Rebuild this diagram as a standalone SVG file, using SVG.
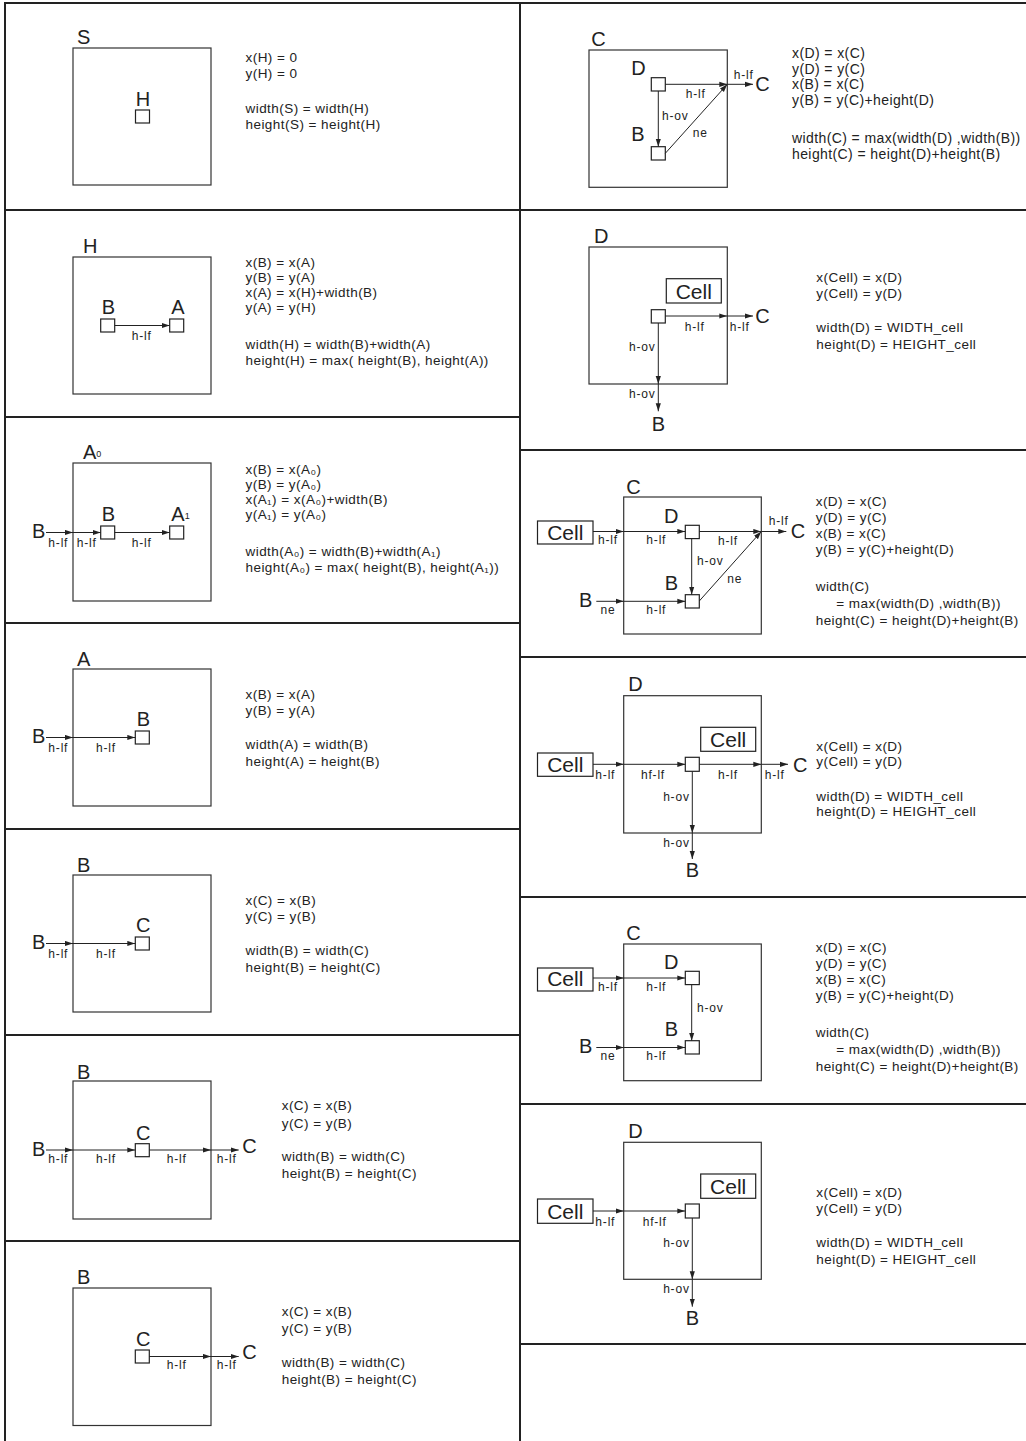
<svg xmlns="http://www.w3.org/2000/svg" width="1026" height="1441" viewBox="0 0 1026 1441">
<style>
.frame{stroke:#222;stroke-width:2;fill:none}
.box{fill:none;stroke:#333;stroke-width:1.2}
.sq{fill:#fff;stroke:#222;stroke-width:1.2}
.cb{fill:#fff;stroke:#222;stroke-width:1.2}
.e{stroke:#222;stroke-width:1;fill:none;marker-end:url(#ah)}
text{font-family:"Liberation Sans",Arial,Helvetica,sans-serif;fill:#222}
.t{font-size:13.5px;letter-spacing:.45px}
.t2{font-size:14px;letter-spacing:.4px}
.lb{font-size:12px;letter-spacing:.8px;text-anchor:middle}
.lbs{font-size:12px;letter-spacing:.8px}
.lbe{font-size:12px;letter-spacing:.8px;text-anchor:end}
.big{font-size:20px}
.bigm{font-size:20px;text-anchor:middle}
.cell{font-size:21px;text-anchor:middle}
.sub{font-size:9px}
</style>
<defs>
<marker id="ah" markerWidth="8" markerHeight="6" refX="8" refY="3" orient="auto" markerUnits="userSpaceOnUse"><path d="M0,0.4 L8,3 L0,5.6 z" fill="#222"/></marker>
</defs>
<rect width="1026" height="1441" fill="#fff"/>
<g id="frame" class="frame">
<path d="M4 3H1026M5 2V1441M520 2V1441"/>
<path d="M5 210H520M5 417H520M5 623H520M5 829H520M5 1035H520M5 1241H520"/>
<path d="M520 210H1026M520 450H1026M520 657H1026M520 897H1026M520 1104H1026M520 1344H1026"/>
</g>

<!-- L1 -->
<g id="L1">
<g id="L1-S"><rect class="box" x="73" y="48" width="138" height="137"/><text class="big" x="77" y="44">S</text></g>
<g id="L1-H"><rect class="sq" x="135.5" y="110" width="14" height="13"/><text class="bigm" x="143" y="106">H</text></g>
<g id="L1-eq" class="t"><text class="t" x="245.5" y="61.5">x(H) = 0</text><text class="t" x="245.5" y="77.5">y(H) = 0</text><text class="t" x="245.5" y="112.5">width(S) = width(H)</text><text class="t" x="245.5" y="129">height(S) = height(H)</text></g>
</g>

<!-- L2 -->
<g id="L2">
<g id="L2-H"><rect class="box" x="73" y="257" width="138" height="137"/><text class="big" x="83" y="253">H</text></g>
<g id="L2-B"><rect class="sq" x="100.7" y="319" width="14" height="13"/><text class="bigm" x="108.5" y="314">B</text></g>
<g id="L2-A"><rect class="sq" x="169.7" y="319" width="14" height="13"/><text class="bigm" x="178" y="314">A</text></g>
<g id="L2-conn"><path class="e" d="M114.7 325.5H169.7"/><text class="lb" x="141.7" y="339.7">h-lf</text></g>
<g id="L2-eq"><text class="t" x="245.5" y="267.3">x(B) = x(A)</text><text class="t" x="245.5" y="282.3">y(B) = y(A)</text><text class="t" x="245.5" y="297.3">x(A) = x(H)+width(B)</text><text class="t" x="245.5" y="312.3">y(A) = y(H)</text><text class="t" x="245.5" y="349">width(H) = width(B)+width(A)</text><text class="t" x="245.5" y="364.7">height(H) = max( height(B), height(A))</text></g>
</g>

<!-- L3 -->
<g id="L3">
<g id="L3-A0"><rect class="box" x="73" y="463" width="138" height="138"/><text class="big" x="83" y="459.3">A<tspan class="sub" dy="-2">0</tspan></text></g>
<g id="L3-Bin"><text class="big" x="32" y="537.7">B</text></g>
<g id="L3-B"><rect class="sq" x="100.7" y="526" width="14" height="13"/><text class="bigm" x="108.5" y="521">B</text></g>
<g id="L3-A1"><rect class="sq" x="169.7" y="526" width="14" height="13"/><text class="big" x="171.3" y="521">A<tspan class="sub" dy="-2">1</tspan></text></g>
<g id="L3-conn"><path class="e" d="M46 532.5H73"/><path class="e" d="M73 532.5H100.7"/><path class="e" d="M114.7 532.5H169.7"/>
<text class="lb" x="58.3" y="546.7">h-lf</text><text class="lb" x="86.7" y="546.7">h-lf</text><text class="lb" x="141.7" y="546.7">h-lf</text></g>
<g id="L3-eq"><text class="t" x="245.5" y="474.3">x(B) = x(A₀)</text><text class="t" x="245.5" y="489.3">y(B) = y(A₀)</text><text class="t" x="245.5" y="504.3">x(A₁) = x(A₀)+width(B)</text><text class="t" x="245.5" y="519.3">y(A₁) = y(A₀)</text><text class="t" x="245.5" y="556">width(A₀) = width(B)+width(A₁)</text><text class="t" x="245.5" y="571.7">height(A₀) = max( height(B), height(A₁))</text></g>
</g>

<!-- L4 -->
<g id="L4">
<g id="L4-A"><rect class="box" x="73" y="669" width="138" height="137"/><text class="big" x="77" y="665.7">A</text></g>
<g id="L4-Bin"><text class="big" x="32" y="743.3">B</text></g>
<g id="L4-B"><rect class="sq" x="135.3" y="731" width="14" height="13"/><text class="bigm" x="143.3" y="726">B</text></g>
<g id="L4-conn"><path class="e" d="M46 737.5H73"/><path class="e" d="M73 737.5H135.3"/><text class="lb" x="58.3" y="752.3">h-lf</text><text class="lb" x="106" y="752.3">h-lf</text></g>
<g id="L4-eq"><text class="t" x="245.5" y="699">x(B) = x(A)</text><text class="t" x="245.5" y="715">y(B) = y(A)</text><text class="t" x="245.5" y="749">width(A) = width(B)</text><text class="t" x="245.5" y="765.7">height(A) = height(B)</text></g>
</g>

<!-- L5 -->
<g id="L5">
<g id="L5-B"><rect class="box" x="73" y="875" width="138" height="137"/><text class="big" x="77" y="871.7">B</text></g>
<g id="L5-Bin"><text class="big" x="32" y="949.3">B</text></g>
<g id="L5-C"><rect class="sq" x="135.3" y="937" width="14" height="13"/><text class="bigm" x="143.3" y="932">C</text></g>
<g id="L5-conn"><path class="e" d="M46 943.5H73"/><path class="e" d="M73 943.5H135.3"/><text class="lb" x="58.3" y="958.3">h-lf</text><text class="lb" x="106" y="958.3">h-lf</text></g>
<g id="L5-eq"><text class="t" x="245.5" y="905">x(C) = x(B)</text><text class="t" x="245.5" y="921">y(C) = y(B)</text><text class="t" x="245.5" y="955">width(B) = width(C)</text><text class="t" x="245.5" y="971.7">height(B) = height(C)</text></g>
</g>

<!-- L6 -->
<g id="L6">
<g id="L6-B"><rect class="box" x="73" y="1081" width="138" height="138"/><text class="big" x="77" y="1078.7">B</text></g>
<g id="L6-Bin"><text class="big" x="32" y="1156">B</text></g>
<g id="L6-C"><rect class="sq" x="135.3" y="1143.7" width="14" height="13"/><text class="bigm" x="143.3" y="1140.3">C</text></g>
<g id="L6-Cout"><text class="big" x="242.3" y="1152.7">C</text></g>
<g id="L6-conn"><path class="e" d="M46 1150H73"/><path class="e" d="M73 1150H135.3"/><path class="e" d="M149.3 1150H211"/><path class="e" d="M211 1150H238.7"/>
<text class="lb" x="58.3" y="1162.7">h-lf</text><text class="lb" x="106" y="1162.7">h-lf</text><text class="lb" x="176.7" y="1162.7">h-lf</text><text class="lb" x="226.7" y="1162.7">h-lf</text></g>
<g id="L6-eq"><text class="t" x="281.7" y="1110.3">x(C) = x(B)</text><text class="t" x="281.7" y="1127.7">y(C) = y(B)</text><text class="t" x="281.7" y="1161">width(B) = width(C)</text><text class="t" x="281.7" y="1178.3">height(B) = height(C)</text></g>
</g>

<!-- L7 -->
<g id="L7">
<g id="L7-B"><rect class="box" x="73" y="1288" width="138" height="137.5"/><text class="big" x="77" y="1284.3">B</text></g>
<g id="L7-C"><rect class="sq" x="135.3" y="1350" width="14" height="13"/><text class="bigm" x="143.3" y="1346">C</text></g>
<g id="L7-Cout"><text class="big" x="242.3" y="1358.7">C</text></g>
<g id="L7-conn"><path class="e" d="M149.3 1356.5H211"/><path class="e" d="M211 1356.5H238.7"/><text class="lb" x="176.7" y="1368.7">h-lf</text><text class="lb" x="226.7" y="1368.7">h-lf</text></g>
<g id="L7-eq"><text class="t" x="281.7" y="1316.3">x(C) = x(B)</text><text class="t" x="281.7" y="1333">y(C) = y(B)</text><text class="t" x="281.7" y="1367">width(B) = width(C)</text><text class="t" x="281.7" y="1384.3">height(B) = height(C)</text></g>
</g>

<!-- R1 -->
<g id="R1">
<g id="R1-C"><rect class="box" x="589" y="50" width="138.3" height="137.3"/><text class="big" x="591.3" y="45.7">C</text></g>
<g id="R1-D"><rect class="sq" x="651.3" y="77.7" width="14" height="13.3"/><text class="big" x="631.3" y="75">D</text></g>
<g id="R1-B"><rect class="sq" x="651.3" y="146.7" width="14" height="13.3"/><text class="big" x="631.3" y="141">B</text></g>
<g id="R1-Cout"><text class="big" x="755.3" y="90.7">C</text></g>
<g id="R1-conn"><path class="e" d="M658.3 91V146.7"/><path class="e" d="M665.3 84.3H727.3"/><path class="e" d="M665.3 153.3L727.3 84.3"/><path class="e" d="M727.3 84.3H753"/>
<text class="lbs" x="662" y="120">h-ov</text><text class="lb" x="695.7" y="98.3">h-lf</text><text class="lb" x="700.3" y="136.7">ne</text><text class="lb" x="743.7" y="79">h-lf</text></g>
<g id="R1-eq"><text class="t2" x="792" y="58">x(D) = x(C)</text><text class="t2" x="792" y="73.5">y(D) = y(C)</text><text class="t2" x="792" y="89">x(B) = x(C)</text><text class="t2" x="792" y="104.5">y(B) = y(C)+height(D)</text><text class="t2" x="792" y="142.5">width(C) = max(width(D) ,width(B))</text><text class="t2" x="792" y="158.5">height(C) = height(D)+height(B)</text></g>
</g>

<!-- R2 -->
<g id="R2">
<g id="R2-D"><rect class="box" x="589" y="247" width="138.3" height="137"/><text class="big" x="594" y="243">D</text></g>
<g id="R2-Cell"><rect class="cb" x="666.3" y="278.7" width="55" height="24.3"/><text class="cell" x="693.8" y="299">Cell</text></g>
<g id="R2-n"><rect class="sq" x="651.3" y="309.7" width="14" height="13.3"/></g>
<g id="R2-Cout"><text class="big" x="755.3" y="323">C</text></g>
<g id="R2-Bout"><text class="bigm" x="658.3" y="430.7">B</text></g>
<g id="R2-conn"><path class="e" d="M665.3 316H727.3"/><path class="e" d="M727.3 316H753"/><path class="e" d="M658.3 323V384"/><path class="e" d="M658.3 384V411.3"/>
<text class="lb" x="694.7" y="331.3">h-lf</text><text class="lb" x="739.7" y="331.3">h-lf</text><text class="lbe" x="655.5" y="351.3">h-ov</text><text class="lbe" x="655.5" y="398">h-ov</text></g>
<g id="R2-eq"><text class="t" x="816.3" y="282.3">x(Cell) = x(D)</text><text class="t" x="816.3" y="298">y(Cell) = y(D)</text><text class="t" x="816.3" y="332.3">width(D) = WIDTH_cell</text><text class="t" x="816.3" y="349">height(D) = HEIGHT_cell</text></g>
</g>

<!-- R3 -->
<g id="R3">
<g id="R3-C"><rect class="box" x="623.7" y="497" width="137.6" height="137"/><text class="big" x="626.3" y="493.7">C</text></g>
<g id="R3-Cell"><rect class="cb" x="537.5" y="521" width="55.5" height="23"/><text class="cell" x="565.3" y="539.7">Cell</text></g>
<g id="R3-D"><rect class="sq" x="685.3" y="525.3" width="14" height="13.3"/><text class="bigm" x="671.3" y="523">D</text></g>
<g id="R3-B"><rect class="sq" x="685.3" y="594.7" width="14" height="13.3"/><text class="bigm" x="671.3" y="589.7">B</text></g>
<g id="R3-Cout"><text class="big" x="790.7" y="538">C</text></g>
<g id="R3-Bout"><text class="bigm" x="585.7" y="607.3">B</text></g>
<g id="R3-conn"><path class="e" d="M593 531.5H623.7"/><path class="e" d="M623.7 531.5H685.3"/><path class="e" d="M699.3 531.5H761.3"/><path class="e" d="M761.3 531.5H786.3"/><path class="e" d="M691.7 538.7V594.7"/><path class="e" d="M699.3 601L761.3 531.5"/><path class="e" d="M596.3 601.3H623.7"/><path class="e" d="M623.7 601.3H685.3"/>
<text class="lb" x="608" y="544">h-lf</text><text class="lb" x="656.3" y="544">h-lf</text><text class="lb" x="728" y="544.7">h-lf</text><text class="lb" x="778.7" y="524.7">h-lf</text><text class="lbs" x="697" y="564.7">h-ov</text><text class="lb" x="734.7" y="583">ne</text><text class="lb" x="608" y="613.7">ne</text><text class="lb" x="656.3" y="613.7">h-lf</text></g>
<g id="R3-eq"><text class="t" x="815.7" y="506">x(D) = x(C)</text><text class="t" x="815.7" y="522">y(D) = y(C)</text><text class="t" x="815.7" y="538">x(B) = x(C)</text><text class="t" x="815.7" y="554">y(B) = y(C)+height(D)</text><text class="t" x="815.7" y="591.3">width(C)</text><text class="t" x="836.3" y="608">= max(width(D) ,width(B))</text><text class="t" x="815.7" y="624.7">height(C) = height(D)+height(B)</text></g>
</g>

<!-- R4 -->
<g id="R4">
<g id="R4-D"><rect class="box" x="623.7" y="695.7" width="137.6" height="137.3"/><text class="big" x="628.3" y="691.3">D</text></g>
<g id="R4-Cellin"><rect class="cb" x="700.7" y="727.3" width="55" height="24"/><text class="cell" x="728.2" y="747.3">Cell</text></g>
<g id="R4-Cellout"><rect class="cb" x="537.5" y="753" width="55.5" height="23.3"/><text class="cell" x="565.3" y="772.3">Cell</text></g>
<g id="R4-n"><rect class="sq" x="685.3" y="757.3" width="14" height="14"/></g>
<g id="R4-Cout"><text class="big" x="793" y="772.3">C</text></g>
<g id="R4-Bout"><text class="bigm" x="692.3" y="876.7">B</text></g>
<g id="R4-conn"><path class="e" d="M593 764.3H623.7"/><path class="e" d="M623.7 764.3H685.3"/><path class="e" d="M699.3 764.3H761.3"/><path class="e" d="M761.3 764.3H788"/><path class="e" d="M692.3 771.3V833"/><path class="e" d="M692.3 833V859"/>
<text class="lb" x="605.3" y="779">h-lf</text><text class="lb" x="653" y="779">hf-lf</text><text class="lb" x="728" y="779">h-lf</text><text class="lb" x="774.7" y="779">h-lf</text><text class="lbe" x="689.7" y="800.7">h-ov</text><text class="lbe" x="689.7" y="846.7">h-ov</text></g>
<g id="R4-eq"><text class="t" x="816.3" y="750.7">x(Cell) = x(D)</text><text class="t" x="816.3" y="766.3">y(Cell) = y(D)</text><text class="t" x="816.3" y="800.7">width(D) = WIDTH_cell</text><text class="t" x="816.3" y="816.3">height(D) = HEIGHT_cell</text></g>
</g>

<!-- R5 -->
<g id="R5">
<g id="R5-C"><rect class="box" x="623.7" y="944" width="137.6" height="136.7"/><text class="big" x="626.3" y="939.7">C</text></g>
<g id="R5-Cell"><rect class="cb" x="537.5" y="968" width="55.5" height="23"/><text class="cell" x="565.3" y="986.3">Cell</text></g>
<g id="R5-D"><rect class="sq" x="685.3" y="971.3" width="14" height="13.3"/><text class="bigm" x="671.3" y="969">D</text></g>
<g id="R5-B"><rect class="sq" x="685.3" y="1040.7" width="14" height="13.3"/><text class="bigm" x="671.3" y="1035.7">B</text></g>
<g id="R5-Bout"><text class="bigm" x="585.7" y="1053.3">B</text></g>
<g id="R5-conn"><path class="e" d="M593 978H623.7"/><path class="e" d="M623.7 978H685.3"/><path class="e" d="M691.7 984.7V1040.7"/><path class="e" d="M596.3 1047.5H623.7"/><path class="e" d="M623.7 1047.5H685.3"/>
<text class="lb" x="608" y="990.7">h-lf</text><text class="lb" x="656.3" y="990.7">h-lf</text><text class="lbs" x="697" y="1012.3">h-ov</text><text class="lb" x="608" y="1059.7">ne</text><text class="lb" x="656.3" y="1059.7">h-lf</text></g>
<g id="R5-eq"><text class="t" x="815.7" y="952">x(D) = x(C)</text><text class="t" x="815.7" y="968">y(D) = y(C)</text><text class="t" x="815.7" y="984">x(B) = x(C)</text><text class="t" x="815.7" y="1000">y(B) = y(C)+height(D)</text><text class="t" x="815.7" y="1037.3">width(C)</text><text class="t" x="836.3" y="1054">= max(width(D) ,width(B))</text><text class="t" x="815.7" y="1070.7">height(C) = height(D)+height(B)</text></g>
</g>

<!-- R6 -->
<g id="R6">
<g id="R6-D"><rect class="box" x="623.7" y="1142.3" width="137.6" height="137"/><text class="big" x="628.3" y="1138.3">D</text></g>
<g id="R6-Cellin"><rect class="cb" x="700.7" y="1174" width="55" height="24.3"/><text class="cell" x="728.2" y="1194.3">Cell</text></g>
<g id="R6-Cellout"><rect class="cb" x="537.5" y="1199" width="55.5" height="24.3"/><text class="cell" x="565.3" y="1219">Cell</text></g>
<g id="R6-n"><rect class="sq" x="685.3" y="1204" width="14" height="14"/></g>
<g id="R6-Bout"><text class="bigm" x="692.3" y="1325">B</text></g>
<g id="R6-conn"><path class="e" d="M593 1211H623.7"/><path class="e" d="M623.7 1211H685.3"/><path class="e" d="M692.3 1218V1279.3"/><path class="e" d="M692.3 1279.3V1306.7"/>
<text class="lb" x="605.3" y="1226">h-lf</text><text class="lb" x="654.7" y="1226">hf-lf</text><text class="lbe" x="689.7" y="1246.7">h-ov</text><text class="lbe" x="689.7" y="1293.3">h-ov</text></g>
<g id="R6-eq"><text class="t" x="816.3" y="1196.7">x(Cell) = x(D)</text><text class="t" x="816.3" y="1213.3">y(Cell) = y(D)</text><text class="t" x="816.3" y="1246.7">width(D) = WIDTH_cell</text><text class="t" x="816.3" y="1264">height(D) = HEIGHT_cell</text></g>
</g>
</svg>
